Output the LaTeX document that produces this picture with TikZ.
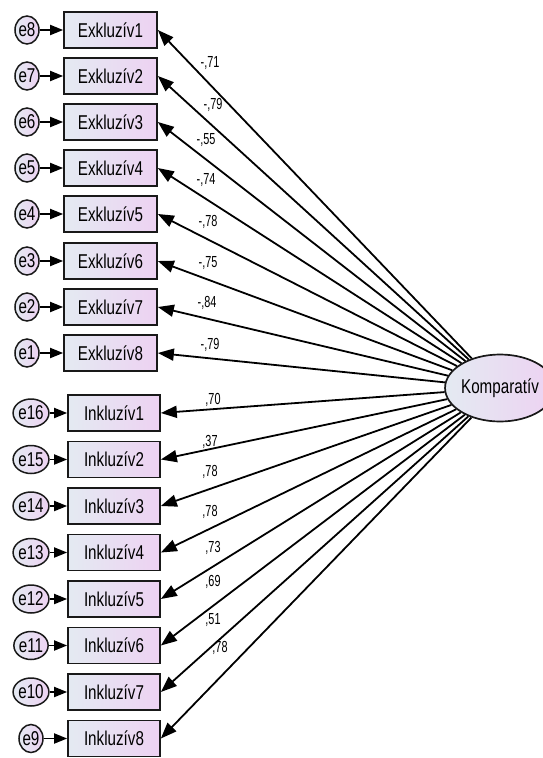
\documentclass[tikz,border=0pt]{standalone}
\usepackage{fontspec}
\setmainfont{Liberation Sans}[FakeStretch=0.76]
\newfontfamily\lblfont{Liberation Sans}[FakeStretch=0.68]
\usetikzlibrary{arrows.meta,shapes.geometric}
\definecolor{gl}{RGB}{228,234,242}
\definecolor{gr}{RGB}{237,210,242}
\definecolor{bd}{RGB}{25,25,25}
\begin{document}
\begin{tikzpicture}[x=1pt,y=-1pt,
  obs/.style={draw=bd, line width=1.7pt, left color=gl, right color=gr,
    minimum width=93pt, minimum height=36pt, inner sep=0pt,
    font=\fontsize{20}{20}\selectfont},
  err/.style={ellipse, draw=bd, line width=1.5pt, left color=gl, right color=gr,
    minimum width=24pt, minimum height=28pt, inner sep=0pt,
    font=\fontsize{20}{20}\selectfont},
  lat/.style={ellipse, draw=bd, line width=1.7pt, left color=gl, right color=gr,
    minimum width=80pt, minimum height=67pt, inner sep=0pt,
    font=\fontsize{20}{20}\selectfont},
  regarrow/.style={line width=1.8pt, draw=black, -{Triangle[length=16pt,width=12pt]}},
  errarrow/.style={line width=1.8pt, draw=black, -{Triangle[length=13pt,width=10pt]}},
  wt/.style={inner sep=0pt, font=\lblfont\fontsize{16}{16}\selectfont}
]
\useasboundingbox (0,0) rectangle (542,758);

\node[lat] (K) at (500,388) {Komparatív};

\foreach \i/\y/\e in {1/30/8,2/76/7,3/122/6,4/168/5,5/214/4,6/261/3,7/307/2,8/353/1}{
  \node[obs] (x\i) at (110.5,\y) {Exkluzív\i};
  \node[err] (ex\i) at (27,\y) {e\e};
  \draw[errarrow] (ex\i) -- (x\i.west);
  \draw[regarrow] (K) -- (x\i.east);
}
\foreach \i/\y/\e in {1/413/16,2/459.5/15,3/506/14,4/552.5/13,5/599/12,6/645.5/11,7/692/10,8/738.5/9}{
  \node[obs, minimum width=92pt] (y\i) at (114,\y) {Inkluzív\i};
  \node[err] (ey\i) at (31,\y) {e\e};
  \draw[errarrow] (ey\i) -- (y\i.west);
  \draw[regarrow] (K) -- (y\i.east);
}

\node[wt] (w1) at (210,63) {-,71};
\node[wt] (w2) at (213,105) {-,79};
\node[wt] (w3) at (206,140) {-,55};
\node[wt] (w4) at (206,180) {-,74};
\node[wt] (w5) at (208,222) {-,78};
\node[wt] (w6) at (208,263) {-,75};
\node[wt] (w7) at (207,303) {-,84};
\node[wt] (w8) at (210,345) {-,79};
\node[wt] (w9) at (213,400) {,70};
\node[wt] (w10) at (210,442) {,37};
\node[wt] (w11) at (210,472) {,78};
\node[wt] (w12) at (210,512) {,78};
\node[wt] (w13) at (213,548) {,73};
\node[wt] (w14) at (213,582) {,69};
\node[wt] (w15) at (213,620) {,51};
\node[wt] (w16) at (220,648) {,78};
\end{tikzpicture}
\end{document}
